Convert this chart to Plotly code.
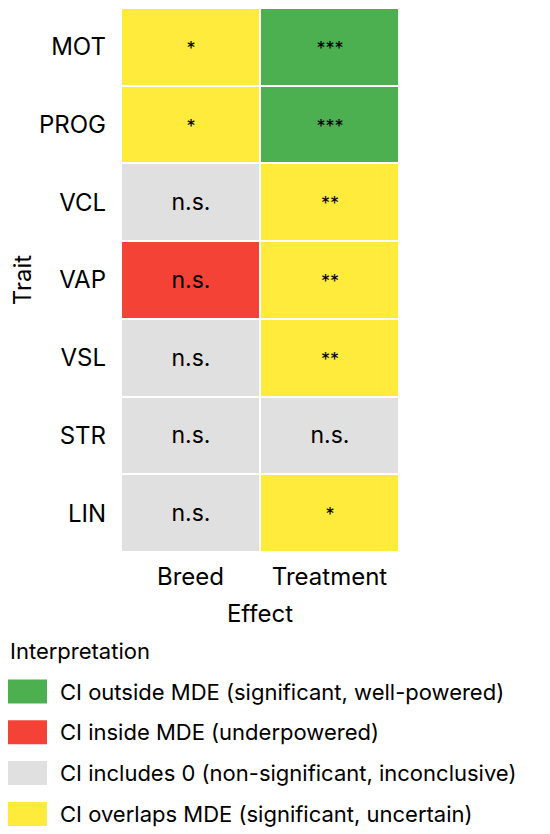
import plotly.graph_objects as go

# Data
traits = ["MOT", "PROG", "VCL", "VAP", "VSL", "STR", "LIN"]
effects = ["Breed", "Treatment"]

categories = [
    "CI outside MDE (significant, well-powered)",
    "CI inside MDE (underpowered)",
    "CI includes 0 (non-significant, inconclusive)",
    "CI overlaps MDE (significant, uncertain)",
]
category_colors = ["#4CAF50", "#F44336", "#E0E0E0", "#FFEB3B"]

# category index per trait (0 outside, 1 inside, 2 includes 0, 3 overlaps)
breed_cat = [3, 3, 2, 1, 2, 2, 2]
treatment_cat = [0, 0, 3, 3, 3, 2, 3]
breed_sig = ["*", "*", "n.s.", "n.s.", "n.s.", "n.s.", "n.s."]
treatment_sig = ["***", "***", "**", "**", "**", "n.s.", "*"]

FONT = "Inter, Roboto, Arial, sans-serif"
FS = 22      # legend
FS_AX = 24   # ticks + axis titles


def cell_label(s):
    # stars are drawn a bit smaller than "n.s."
    if s.startswith("*"):
        return f"<span style='font-size:18px'>{s}</span>"
    return s


z = [[b, t] for b, t in zip(breed_cat, treatment_cat)]
text = [[cell_label(b), cell_label(t)] for b, t in zip(breed_sig, treatment_sig)]

n = len(category_colors)
colorscale = []
for i, c in enumerate(category_colors):
    colorscale.append([i / n, c])
    colorscale.append([(i + 1) / n, c])

fig = go.Figure()
fig.add_trace(
    go.Heatmap(
        x=effects,
        y=traits,
        z=z,
        text=text,
        texttemplate="%{text}",
        textfont={"size": 23, "color": "black", "family": FONT},
        colorscale=colorscale,
        zmin=-0.5,
        zmax=n - 0.5,
        showscale=False,
        xgap=2,
        ygap=2,
        hoverinfo="skip",
    )
)

# page has an 8px body margin, so the figure is 8px smaller than the window
W, H = 542, 826
L, R, T, B = 113, 151, 0, 282
plot_w = W - L - R
plot_h = H - T - B


def px(x):
    return (x - L) / plot_w


def py(y):
    return (H - B - y) / plot_h


# Legend: title + swatches (figure pixel coords)
fig.add_annotation(
    text="Interpretation",
    xref="paper", yref="paper",
    x=px(0), y=py(643),
    xanchor="left", yanchor="middle",
    showarrow=False,
    font={"size": FS, "color": "black", "family": FONT},
)
for i, (lab, col) in enumerate(zip(categories, category_colors)):
    yc = 683.5 + i * 40.8
    fig.add_shape(
        type="rect",
        xref="paper", yref="paper",
        x0=px(0), x1=px(39), y0=py(yc - 12), y1=py(yc + 12),
        fillcolor=col, line={"width": 0},
    )
    fig.add_annotation(
        text=lab,
        xref="paper", yref="paper",
        x=px(50), y=py(yc),
        xanchor="left", yanchor="middle",
        showarrow=False,
        font={"size": FS, "color": "black", "family": FONT},
    )

fig.update_layout(
    width=W,
    height=H,
    margin={"l": L, "r": R, "t": T, "b": B},
    paper_bgcolor="white",
    plot_bgcolor="white",
    font={"family": FONT, "color": "black", "size": FS},
    xaxis={
        "title": {"text": "Effect", "font": {"size": FS_AX}},
        "showgrid": False,
        "zeroline": False,
        "ticklabelstandoff": 8,
        "tickfont": {"size": FS_AX},
    },
    yaxis={
        "title": {"text": "Trait", "font": {"size": FS_AX}},
        "autorange": "reversed",
        "showgrid": False,
        "zeroline": False,
        "ticklabelstandoff": 14,
        "tickfont": {"size": FS_AX},
    },
)

fig.write_html("out.html")
